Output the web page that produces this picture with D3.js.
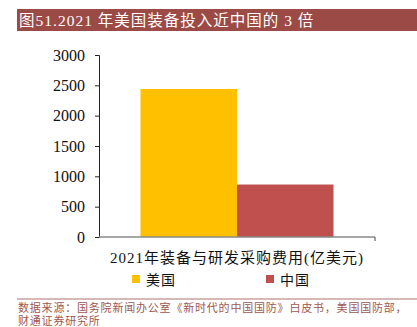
<!DOCTYPE html>
<html><head><meta charset="utf-8">
<script src="https://cdn.jsdelivr.net/npm/d3@7"></script>
<style>
html,body{margin:0;padding:0;background:#fff;}
text{font-family:"Liberation Serif","Noto Sans CJK SC",serif;}
</style></head>
<body>
<svg id="c" width="417" height="327"></svg>
<script>
const titleText = "图51.2021 年美国装备投入近中国的 3 倍";
const categories = ["2021年装备与研发采购费用(亿美元)"];
const seriesNames = ["美国", "中国"];
const seriesValues = [2440, 865];
const seriesColors = ["#FFC000", "#C0504D"];
const yTicks = [0, 500, 1000, 1500, 2000, 2500, 3000];
const sourceLines = ["数据来源：国务院新闻办公室《新时代的中国国防》白皮书，美国国防部，", "财通证券研究所"];

(function(){
const svg = d3.select("#c");
svg.append("rect").attr("x",17).attr("y",9).attr("width",400).attr("height",22).attr("fill","#9C4A45");
svg.append("text").attr("x",19).attr("y",26).attr("fill","#fff").attr("font-size",15.5).attr("letter-spacing",1).text(titleText);

const pL=99, pR=375, pT=55, pB=237;
const y = d3.scaleLinear().domain([0,3000]).range([pB,pT]);
const x0 = d3.scaleBand().domain(categories).range([pL,pR]).paddingInner(0).paddingOuter(0.215);
const x1 = d3.scaleBand().domain(seriesNames).range([0,x0.bandwidth()]);

const ya = svg.append("g").attr("transform",`translate(${pL},0)`).call(d3.axisLeft(y).tickValues(yTicks).tickSize(4).tickPadding(10).tickFormat(d3.format("d")));
ya.select(".domain").attr("stroke","#222");
ya.selectAll(".tick line").attr("stroke","#222");
ya.selectAll(".tick text").attr("font-size",16).attr("fill","#111").style("font-family","Liberation Serif");

const g = svg.append("g");
categories.forEach(c=>{
  seriesNames.forEach((s,i)=>{
    g.append("rect").attr("x",x0(c)+x1(s)).attr("y",y(seriesValues[i]))
      .attr("width",x1.bandwidth()).attr("height",y(0)-y(seriesValues[i]))
      .attr("fill",seriesColors[i]);
  });
});

const xa = svg.append("g").attr("transform",`translate(0,${pB})`).call(d3.axisBottom(x0).tickSize(0).tickFormat(""));
xa.select(".domain").attr("stroke","#888").attr("stroke-width",1.5).attr("d",`M${pL},0H${pR}`);
svg.append("line").attr("x1",pR).attr("x2",pR).attr("y1",pB).attr("y2",pB+4).attr("stroke","#444");
svg.append("text").attr("x",(pL+pR)/2).attr("y",263).attr("text-anchor","middle").attr("font-size",15).attr("letter-spacing",1).attr("fill","#111").text(categories[0]);

const legX=[132,266];
seriesNames.forEach((s,i)=>{
  svg.append("rect").attr("x",legX[i]).attr("y",275).attr("width",8).attr("height",8).attr("fill",seriesColors[i]);
  svg.append("text").attr("x",legX[i]+14).attr("y",285).attr("font-size",14).attr("letter-spacing",1).attr("fill","#111").text(s);
});

svg.append("line").attr("x1",17).attr("x2",417).attr("y1",299).attr("y2",299).attr("stroke","#C9A29E").attr("stroke-width",1.5);
sourceLines.forEach((t,i)=>{
  svg.append("text").attr("x",18).attr("y",312+i*13).attr("font-size",11).attr("letter-spacing",0.8).attr("fill","#A0574F").text(t);
});
})();
</script>
</body></html>
